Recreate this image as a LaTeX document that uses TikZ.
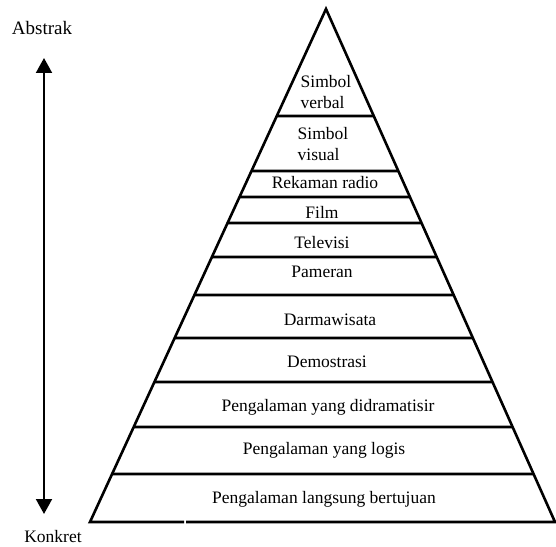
\documentclass[tikz,border=0pt]{standalone}
\usepackage{fontspec}
\setmainfont{Liberation Serif}
\newfontfamily\timesfont{Liberation Serif}
\usepackage{tikz}
\usetikzlibrary{arrows.meta}

\tikzset{level/.style={font=\timesfont\fontsize{17.5}{21}\selectfont,inner sep=0pt},
  wall/.style={line width=2.6pt}}

\begin{document}
\begin{tikzpicture}[x=1pt,y=1pt]
      \useasboundingbox (0,0) rectangle (556,546);
      \coordinate (top) at (326,537);
      \coordinate (b_1) at (90,24);
      \coordinate (b_2) at (555,24);
      \draw[wall] (184,24) -- (b_1) -- (top) -- (b_2) -- (186,24);
      \foreach \y in {430,375,349,323,289,251,208,164,119,72}
        \draw[wall] (intersection of top--b_1 and 0,\y--1,\y) -- (intersection of top--b_2 and 0,\y--1,\y);
      \node[level,align=left] (simbolverbal) at (326,454) {Simbol\\verbal};
      \node[level,align=left] (simbolvisual) at (323,402) {Simbol\\visual};
      \node[level] (rekaman) at (325,363) {Rekaman radio};
      \node[level] (film) at (322,334) {Film};
      \node[level] (televisi) at (322,303) {Televisi};
      \node[level] (pameran) at (322,274) {Pameran};
      \node[level] (darmawisata) at (330,226) {Darmawisata};
      \node[level] (demostrasi) at (327,184) {Demostrasi};
      \node[level] (drama) at (328,139) {Pengalaman yang didramatisir};
      \node[level] (logis) at (324,96) {Pengalaman yang logis};
      \node[level] (langsung) at (324,47) {Pengalaman langsung bertujuan};
      \node[level,font=\timesfont\fontsize{19}{22}\selectfont] (abstrak) at (42,518) {Abstrak};
      \node[level] (konkret) at (53,9) {Konkret};
      \coordinate (up) at (44,488);
      \coordinate (down) at (44,32);
      \draw[line width=2pt,{Triangle[length=15pt,width=16pt]}-{Triangle[length=15pt,width=16pt]}] (up) -- (down);
    \end{tikzpicture}
\end{document}
